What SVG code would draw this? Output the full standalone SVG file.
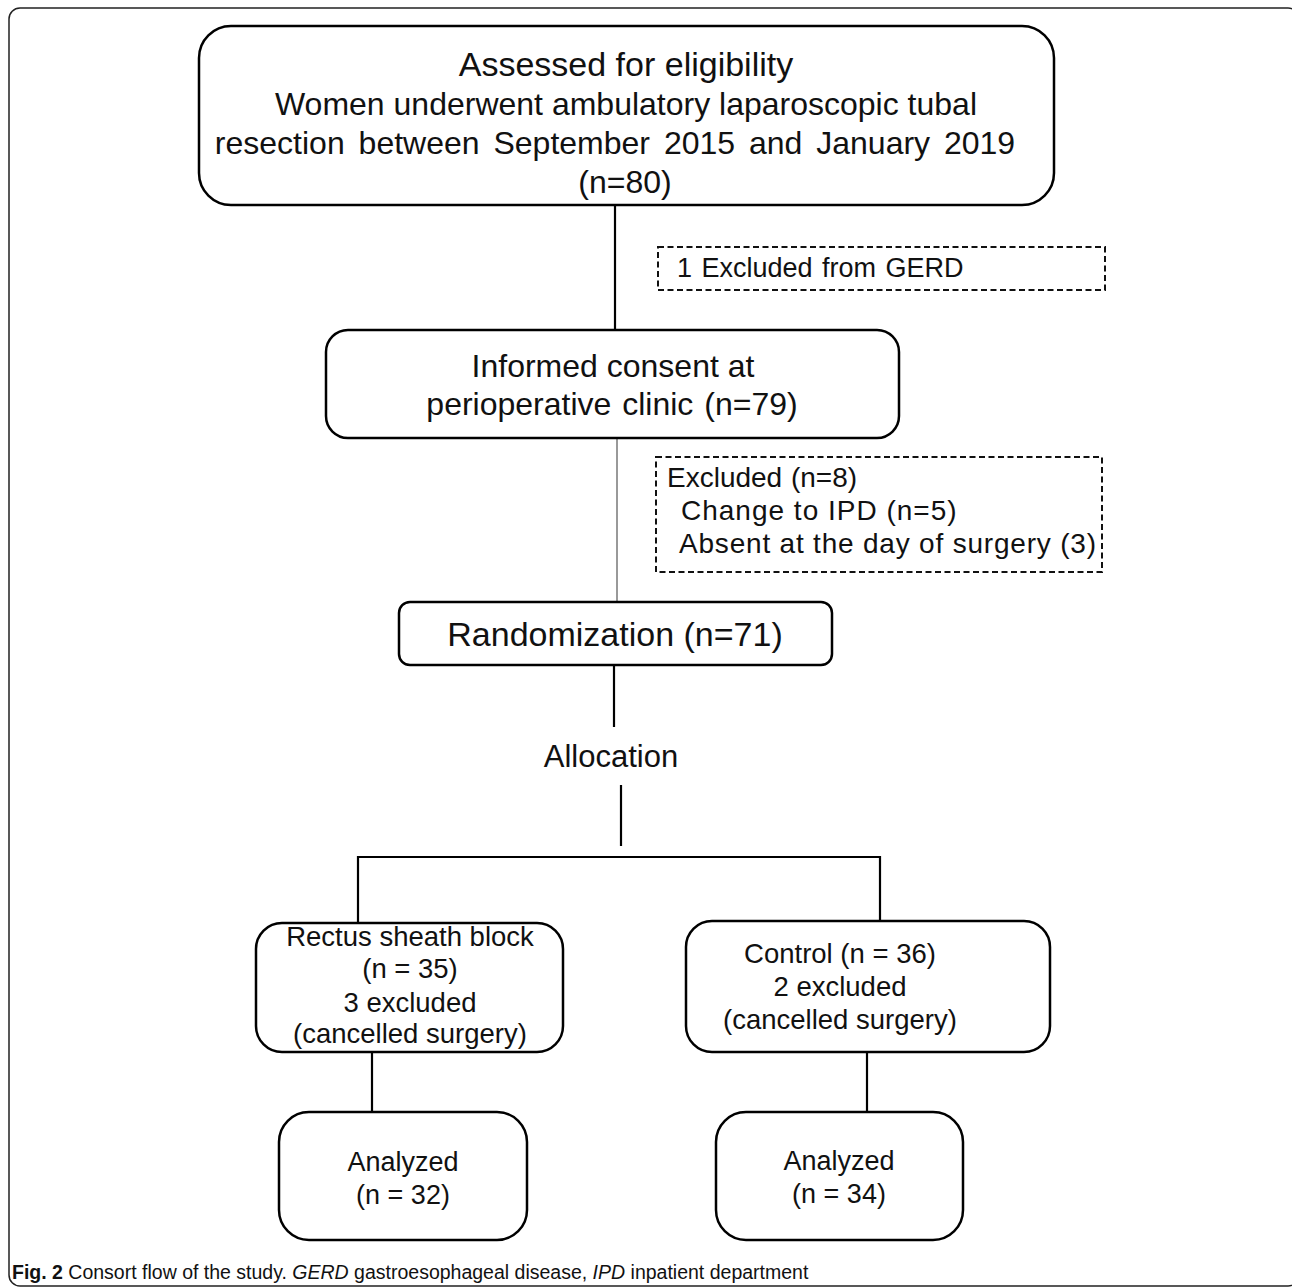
<svg xmlns="http://www.w3.org/2000/svg" width="1292" height="1288" viewBox="0 0 1292 1288">
<style>
.box{fill:#fff;stroke:#000;stroke-width:2.5}
.dash{fill:none;stroke:#111;stroke-width:2;stroke-dasharray:6 3.5}
.ln{fill:none;stroke:#000;stroke-width:2.2}
.t{font-family:"Liberation Sans",Arial,sans-serif;fill:#111;text-anchor:middle}
.tl{font-family:"Liberation Sans",Arial,sans-serif;fill:#111}
</style>
<rect x="0" y="0" width="1292" height="1288" fill="#fff"/>
<rect id="frame" x="9" y="8" width="1290" height="1278" rx="11" fill="none" stroke="#222" stroke-width="1.5"/>
<g id="connectors">
<line class="ln" x1="615" y1="205" x2="615" y2="330"/>
<line x1="617" y1="438" x2="617" y2="602" stroke="#555" stroke-width="1.2"/>
<line class="ln" x1="614" y1="665" x2="614" y2="727"/>
<line class="ln" x1="621" y1="785" x2="621" y2="846"/>
<polyline class="ln" points="358,924 358,857 880,857 880,921"/>
<line class="ln" x1="372" y1="1052" x2="372" y2="1112"/>
<line class="ln" x1="867" y1="1052" x2="867" y2="1112"/>
</g>
<g id="n-assessed">
<rect class="box" x="199" y="26" width="855" height="179" rx="32"/>
<text class="t" x="626" y="76" font-size="34">Assessed for eligibility</text>
<text class="t" x="626" y="115" font-size="32">Women underwent ambulatory laparoscopic tubal</text>
<text class="t" x="615" y="154" font-size="32" word-spacing="5">resection between September 2015 and January 2019</text>
<text class="t" x="625" y="193" font-size="32">(n=80)</text>
</g>
<g id="n-excl1">
<rect class="dash" x="658" y="247" width="447" height="43"/>
<text class="tl" x="677" y="277" font-size="27" word-spacing="2">1 Excluded from GERD</text>
</g>
<g id="n-consent">
<rect class="box" x="326" y="330" width="573" height="108" rx="22"/>
<text class="t" x="613" y="377" font-size="32">Informed consent at</text>
<text class="t" x="612" y="415" font-size="32" word-spacing="2">perioperative clinic (n=79)</text>
</g>
<g id="n-excl2">
<rect class="dash" x="656" y="457" width="446" height="115"/>
<text class="tl" x="667" y="487" font-size="28" word-spacing="1">Excluded (n=8)</text>
<text class="tl" x="681" y="520" font-size="28" letter-spacing="1">Change to IPD (n=5)</text>
<text class="tl" x="679" y="553" font-size="28" letter-spacing="0.8">Absent at the day of surgery (3)</text>
</g>
<g id="n-random">
<rect class="box" x="399" y="602" width="433" height="63" rx="11"/>
<text class="t" x="615" y="646" font-size="34">Randomization (n=71)</text>
</g>
<g id="n-allocation">
<text class="t" x="611" y="767" font-size="31">Allocation</text>
</g>
<g id="n-rsb">
<rect class="box" x="256" y="923" width="307" height="129" rx="26"/>
<text class="t" x="410" y="946" font-size="27.5">Rectus sheath block</text>
<text class="t" x="410" y="978" font-size="27.5">(n = 35)</text>
<text class="t" x="410" y="1012" font-size="27.5">3 excluded</text>
<text class="t" x="410" y="1043" font-size="27.5">(cancelled surgery)</text>
</g>
<g id="n-control">
<rect class="box" x="686" y="921" width="364" height="131" rx="26"/>
<text class="t" x="840" y="963" font-size="27.5">Control (n = 36)</text>
<text class="t" x="840" y="996" font-size="27.5">2 excluded</text>
<text class="t" x="840" y="1029" font-size="27.5">(cancelled surgery)</text>
</g>
<g id="n-analyzed1">
<rect class="box" x="279" y="1112" width="248" height="128" rx="30"/>
<text class="t" x="403" y="1171" font-size="27">Analyzed</text>
<text class="t" x="403" y="1204" font-size="27">(n = 32)</text>
</g>
<g id="n-analyzed2">
<rect class="box" x="716" y="1112" width="247" height="128" rx="30"/>
<text class="t" x="839" y="1170" font-size="27">Analyzed</text>
<text class="t" x="839" y="1203" font-size="27">(n = 34)</text>
</g>
<g id="caption">
<text class="tl" x="12" y="1279" font-size="19.5"><tspan font-weight="bold">Fig. 2</tspan> Consort flow of the study. <tspan font-style="italic">GERD</tspan> gastroesophageal disease, <tspan font-style="italic">IPD</tspan> inpatient department</text>
</g>
</svg>
